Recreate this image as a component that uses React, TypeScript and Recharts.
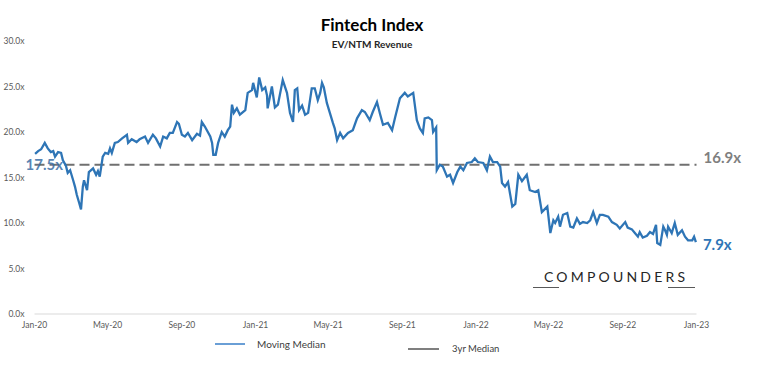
import { LineChart, Line, XAxis, YAxis, ReferenceLine } from 'recharts'

const FONT = "Lato, 'Liberation Sans', sans-serif"

const tickDays = [0, 121, 244, 366, 486, 609, 731, 851, 974, 1096]
const tickLabels = ['Jan-20', 'May-20', 'Sep-20', 'Jan-21', 'May-21', 'Sep-21', 'Jan-22', 'May-22', 'Sep-22', 'Jan-23']
const yTicks = [0, 5, 10, 15, 20, 25, 30]

// days since 1 Jan 2020
const days = [
  1, 6, 11, 17, 22, 27, 31, 34, 39, 44, 47, 52, 55, 59, 64, 67, 70, 74, 77, 80,
  82, 87, 90, 97, 102, 105, 108, 113, 117, 122, 125, 128, 133, 138, 145, 153, 155, 161, 169, 174,
  183, 188, 196, 201, 208, 213, 219, 224, 229, 236, 239, 244, 249, 254, 261, 269, 274, 277, 282, 291,
  294, 296, 300, 304, 310, 315, 320, 324, 327, 330, 335, 340, 349, 353, 360, 362, 368, 372, 377, 382,
  385, 386, 393, 398, 403, 411, 418, 423, 428, 431, 435, 438, 443, 448, 453, 459, 464, 469, 473, 476,
  479, 484, 489, 494, 497, 501, 506, 511, 519, 527, 534, 542, 547, 555, 560, 567, 572, 577, 585, 592,
  597, 605, 613, 618, 627, 633, 638, 643, 646, 652, 658, 660, 665, 666, 671, 676, 683, 688, 693, 700,
  705, 710, 716, 724, 729, 734, 743, 749, 754, 759, 766, 771, 774, 779, 784, 791, 796, 801, 807, 815,
  820, 829, 834, 840, 849, 854, 859, 862, 867, 870, 875, 882, 887, 892, 898, 903, 908, 915, 920, 925,
  931, 936, 941, 950, 956, 964, 969, 978, 982, 989, 994, 999, 1002, 1007, 1014, 1019, 1024, 1029, 1031, 1036,
  1041, 1044, 1047, 1049, 1055, 1060, 1065, 1072, 1077, 1082, 1089, 1092, 1095,
]

const movingMedian = [
  17.6, 17.9, 18.1, 18.8, 18.2, 17.8, 17.9, 17.3, 17.8, 17.7, 16.9, 16.3, 15.5, 15.8, 14.7, 14.0, 13.1, 12.2, 11.5, 14.0,
  14.7, 13.6, 15.6, 16.0, 15.3, 15.7, 15.1, 17.3, 17.7, 17.6, 18.2, 17.7, 18.8, 18.9, 19.3, 19.7, 18.8, 19.2, 18.9, 19.2,
  19.5, 18.8, 19.7, 19.3, 18.4, 19.5, 19.3, 19.9, 19.9, 21.1, 20.9, 19.7, 19.5, 19.9, 19.1, 19.8, 19.6, 21.1, 20.6, 19.5,
  18.8, 17.5, 17.5, 18.8, 20.0, 19.5, 20.2, 20.6, 23.0, 22.1, 22.6, 21.9, 22.4, 24.3, 24.6, 25.4, 23.8, 26.0, 24.6, 24.9,
  24.0, 22.6, 25.0, 22.7, 23.0, 25.7, 24.3, 22.1, 21.1, 24.6, 24.8, 22.4, 22.9, 21.9, 22.1, 24.8, 24.8, 23.5, 24.3, 25.4,
  24.9, 23.2, 22.1, 21.0, 20.4, 19.1, 19.9, 19.3, 19.9, 20.2, 21.5, 22.4, 22.2, 21.3, 22.2, 23.3, 22.0, 20.8, 21.0, 20.2,
  21.6, 23.7, 24.3, 23.9, 24.3, 21.3, 20.4, 19.9, 21.5, 21.6, 21.3, 20.0, 20.5, 15.8, 16.4, 16.2, 15.1, 15.3, 14.4, 15.6,
  16.2, 15.8, 16.6, 16.7, 17.1, 16.7, 16.6, 15.8, 17.3, 16.7, 16.7, 16.2, 14.4, 14.0, 14.5, 11.8, 12.1, 15.3, 14.6, 15.3,
  13.6, 13.4, 13.6, 11.2, 11.8, 8.9, 10.3, 10.0, 10.7, 9.6, 10.9, 11.1, 9.6, 9.5, 10.5, 9.9, 10.1, 10.0, 10.3, 11.2,
  10.0, 10.9, 10.9, 10.7, 10.1, 9.8, 9.4, 10.1, 9.5, 9.3, 8.9, 8.5, 9.0, 8.4, 8.6, 9.0, 8.8, 9.8, 7.8, 7.6,
  9.6, 9.2, 8.7, 9.6, 8.9, 10.0, 8.7, 9.2, 8.5, 8.1, 8.1, 8.5, 7.9,
]

const threeYearMedian = 16.4
const startLabel = '17.5x'
const medianLabel = '16.9x'
const endLabel = '7.9x'

const data = days.map((day, i) => ({ day, value: movingMedian[i] }))

const MedianLabels = ({ viewBox }: any) => {
  if (!viewBox) return null
  const { x, y, width } = viewBox
  return (
    <g fontFamily={FONT} fontWeight={700}>
      <text x={x - 9} y={y} dy={5} fontSize={15} fill="#3b6ea6" fillOpacity={0.85}>
        {startLabel}
      </text>
      <text x={x + width + 7} y={y - 7} dy={5} fontSize={15} fill="#7f7f7f">
        {medianLabel}
      </text>
    </g>
  )
}

const EndLabel = ({ x, y, index }: any) => {
  if (index !== data.length - 1) return <g />
  return (
    <text x={x + 7} y={y + 3} dy={5} fontFamily={FONT} fontWeight={700} fontSize={15} fill="#2e75b6">
      {endLabel}
    </text>
  )
}

const ChartLegend = () => (
  <div style={{ position: 'absolute', left: 0, top: 330, width: 762, height: 30, fontFamily: FONT, color: '#404040' }}>
    <div style={{ position: 'absolute', left: 215, top: 13, width: 30, height: 2, background: '#6a9fd6' }} />
    <div style={{ position: 'absolute', left: 257, top: 7, fontSize: 10, lineHeight: '14px' }}>Moving Median</div>
    <div style={{ position: 'absolute', left: 408, top: 18, width: 31, height: 2, background: '#7f7f7f' }} />
    <div style={{ position: 'absolute', left: 452, top: 12, fontSize: 9.5, lineHeight: '14px' }}>3yr Median</div>
  </div>
)

export default function App() {
  return (
    <div style={{ position: 'absolute', left: 0, top: 0, width: 762, height: 367, background: '#fff' }}>
      <LineChart width={762} height={367} data={data} margin={{ top: 41, right: 65.5, bottom: 23, left: 0 }}>
        <XAxis
          type="number"
          dataKey="day"
          domain={[0, 1096]}
          ticks={tickDays}
          tickFormatter={(v: number) => tickLabels[tickDays.indexOf(v)]}
          axisLine={{ stroke: '#d9d9d9' }}
          tickLine={false}
          tick={{ fontSize: 8.5, fill: '#595959', fontFamily: FONT }}
          interval={0}
        />
        <YAxis
          type="number"
          domain={[0, 30]}
          ticks={yTicks}
          width={34.5}
          axisLine={false}
          tickLine={false}
          tickMargin={4}
          tickFormatter={(v: number) => `${v.toFixed(1)}x`}
          tick={{ fontSize: 8.5, fill: '#595959', fontFamily: FONT }}
        />
        <ReferenceLine
          y={threeYearMedian}
          stroke="#707070"
          strokeWidth={2}
          strokeDasharray="10 5"
          label={<MedianLabels />}
        />
        <Line
          type="linear"
          dataKey="value"
          stroke="#2e75b6"
          strokeWidth={2.3}
          dot={false}
          isAnimationActive={false}
          label={<EndLabel />}
        />
      </LineChart>
      <div style={{ position: 'absolute', left: 0, width: 744, top: 15, textAlign: 'center', fontFamily: FONT, fontWeight: 700, fontSize: 17, lineHeight: '20px', color: '#000' }}>
        Fintech Index
      </div>
      <div style={{ position: 'absolute', left: 0, width: 744, top: 38, textAlign: 'center', fontFamily: FONT, fontWeight: 700, fontSize: 10, lineHeight: '13px', color: '#262626' }}>
        EV/NTM Revenue
      </div>
      <div style={{ position: 'absolute', left: 544, top: 268, fontFamily: FONT, fontSize: 14, letterSpacing: 3.2, color: '#262626', lineHeight: '18px' }}>
        COMPOUNDERS
      </div>
      <div style={{ position: 'absolute', left: 533, top: 287, width: 26, height: 1, background: '#595959' }} />
      <div style={{ position: 'absolute', left: 668, top: 287, width: 27, height: 1, background: '#595959' }} />
      <ChartLegend />
    </div>
  )
}
